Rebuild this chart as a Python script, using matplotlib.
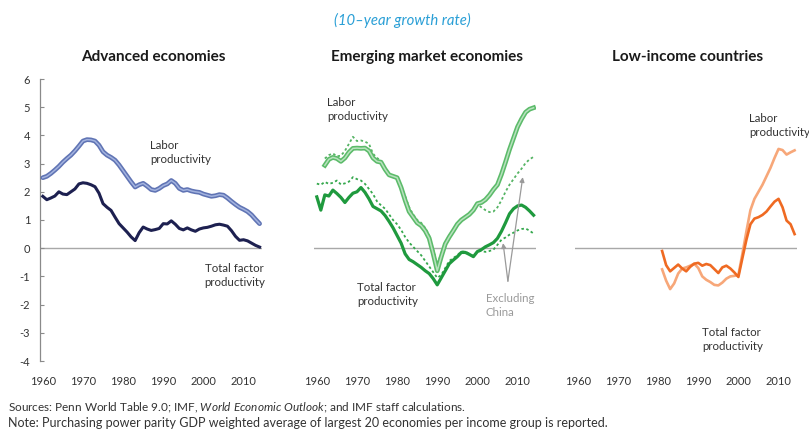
import numpy as np
import matplotlib
matplotlib.use("Agg")
import matplotlib.pyplot as plt

plt.rcParams['font.family'] = ['Lato', 'DejaVu Sans']
plt.rcParams['mathtext.fontset'] = 'custom'
plt.rcParams['mathtext.it'] = 'Lato:italic'
plt.rcParams['mathtext.rm'] = 'Lato'

# ---- data (10-year growth rate, percent) ----
years_all = list(range(1960, 2015))
years_emlp = list(range(1962, 2015))
years_lic = list(range(1981, 2015))

adv_labor = [2.50, 2.55, 2.65, 2.77, 2.90, 3.05, 3.18, 3.30, 3.45, 3.62,
             3.80, 3.85, 3.84, 3.80, 3.65, 3.42, 3.30, 3.22, 3.12, 2.95,
             2.75, 2.55, 2.35, 2.17, 2.25, 2.30, 2.20, 2.08, 2.05, 2.12,
             2.22, 2.28, 2.40, 2.30, 2.12, 2.05, 2.08, 2.03, 2.00, 1.98,
             1.92, 1.88, 1.84, 1.86, 1.90, 1.88, 1.78, 1.66, 1.55, 1.45,
             1.38, 1.30, 1.18, 1.02, 0.87]
adv_tfp = [1.84, 1.72, 1.78, 1.85, 2.00, 1.92, 1.90, 2.00, 2.10, 2.28,
           2.32, 2.30, 2.25, 2.18, 1.95, 1.58, 1.45, 1.34, 1.10, 0.87,
           0.72, 0.57, 0.40, 0.27, 0.55, 0.75, 0.68, 0.63, 0.66, 0.70,
           0.87, 0.86, 0.97, 0.85, 0.70, 0.65, 0.72, 0.65, 0.60, 0.68,
           0.72, 0.74, 0.78, 0.83, 0.85, 0.82, 0.78, 0.62, 0.42, 0.28,
           0.30, 0.26, 0.18, 0.10, 0.04]

em_labor = [2.94, 3.15, 3.22, 3.18, 3.08, 3.20, 3.40, 3.54,
            3.55, 3.54, 3.55, 3.45, 3.20, 3.08, 3.05, 2.80, 2.60, 2.55,
            2.50, 2.15, 1.70, 1.30, 1.10, 0.90, 0.80, 0.62, 0.35, -0.20,
            -0.80, -0.30, 0.15, 0.40, 0.62, 0.85, 1.00, 1.10, 1.20, 1.35,
            1.58, 1.62, 1.72, 1.88, 2.08, 2.25, 2.62, 3.05, 3.50, 3.90,
            4.30, 4.58, 4.82, 4.93, 4.98]
em_labor_exchn = [3.18, 3.30, 3.36, 3.26, 3.28, 3.45, 3.70, 3.95,
                  3.80, 3.82, 3.78, 3.70, 3.35, 3.20, 3.10, 2.85, 2.62, 2.57,
                  2.52, 2.20, 1.85, 1.45, 1.20, 1.00, 0.90, 0.72, 0.45, -0.05,
                  -0.55, -0.20, 0.20, 0.45, 0.65, 0.88, 1.02, 1.12, 1.22, 1.40,
                  1.55, 1.45, 1.35, 1.28, 1.30, 1.45, 1.70, 2.00, 2.25, 2.45,
                  2.65, 2.82, 3.02, 3.15, 3.24]
em_tfp = [1.82, 1.35, 1.89, 1.85, 2.06, 1.94, 1.80, 1.62, 1.80, 1.95,
          2.00, 2.15, 1.98, 1.75, 1.48, 1.40, 1.32, 1.16, 0.95, 0.72,
          0.45, 0.18, -0.20, -0.40, -0.48, -0.58, -0.68, -0.80, -0.90, -1.08,
          -1.30, -1.05, -0.80, -0.55, -0.42, -0.30, -0.15, -0.15, -0.22, -0.30,
          -0.12, -0.05, 0.05, 0.12, 0.20, 0.35, 0.60, 0.90, 1.22, 1.40,
          1.50, 1.53, 1.45, 1.32, 1.17]
em_tfp_exchn = [2.29, 2.25, 2.35, 2.28, 2.32, 2.40, 2.26, 2.30, 2.36, 2.52,
                2.45, 2.40, 2.28, 2.10, 1.92, 1.66, 1.52, 1.40, 1.20, 1.00,
                0.85, 0.65, 0.40, 0.20, 0.05, -0.10, -0.25, -0.45, -0.65, -0.85,
                -1.05, -0.95, -0.70, -0.45, -0.35, -0.25, -0.12, -0.12, -0.20, -0.28,
                -0.12, -0.10, -0.13, -0.10, -0.05, 0.12, 0.30, 0.38, 0.48, 0.55,
                0.63, 0.68, 0.70, 0.62, 0.52]

lic_labor = [-0.75, -1.15, -1.45, -1.25, -0.90, -0.72, -0.68, -0.62, -0.55,
             -0.70, -1.00, -1.12, -1.20, -1.30, -1.32, -1.22, -1.08, -1.00, -0.98,
             -0.95, -0.20, 0.60, 1.35, 1.75, 2.00, 2.25, 2.55, 2.85, 3.20,
             3.52, 3.48, 3.32, 3.40, 3.47]
lic_tfp = [-0.10, -0.60, -0.82, -0.70, -0.58, -0.72, -0.82, -0.66, -0.55,
           -0.52, -0.62, -0.56, -0.60, -0.74, -0.88, -0.68, -0.62, -0.72, -0.86,
           -1.02, -0.35, 0.30, 0.85, 1.05, 1.10, 1.18, 1.30, 1.48, 1.65,
           1.75, 1.45, 0.98, 0.85, 0.50]

xticks = [1960, 1970, 1980, 1990, 2000, 2010]
yticks = [-4, -3, -2, -1, 0, 1, 2, 3, 4, 5, 6]
titles = ["Advanced economies", "Emerging market economies", "Low-income countries"]

W, H = 809, 430
fig = plt.figure(figsize=(W / 100, H / 100), dpi=100)

lefts = [40, 314, 575]
axes = []
for lx in lefts:
    ax = fig.add_axes([lx / W, 1 - 361 / H, 222 / W, 282 / H])
    ax.set_xlim(1959.3, 2014.6)
    ax.set_ylim(-4, 6)
    for s in ax.spines.values():
        s.set_visible(False)
    ax.axhline(0, color='#a8a8a8', lw=1.0, zorder=1)
    ax.set_xticks(xticks)
    ax.set_xticklabels([str(t) for t in xticks])
    ax.tick_params(axis='x', length=0, pad=11, labelsize=8, colors='#333333')
    ax.set_yticks([])
    axes.append(ax)

# left panel y-axis
ax = axes[0]
ax.spines['left'].set_visible(True)
ax.spines['left'].set_color('#8a8a8a')
ax.spines['left'].set_linewidth(0.9)
ax.set_yticks(yticks)
ax.set_yticklabels([str(t) for t in yticks])
ax.tick_params(axis='y', direction='in', length=3, width=0.8, color='#8a8a8a',
               labelsize=8, labelcolor='#333333', pad=7)

txt = dict(fontsize=8.3, color='#333333', ha='left', va='top', linespacing=1.35)

# advanced
ax = axes[0]
ax.plot(years_all, adv_labor, color='#6074b4', lw=3.4, solid_capstyle='round', zorder=3)
ax.plot(years_all, adv_labor, color='#a3b3df', lw=1.1, zorder=4)
ax.plot(years_all, adv_tfp, color='#1d2050', lw=2.2, zorder=3)
ax.text(1986.7, 3.83, "Labor\nproductivity", **txt)
ax.text(2000.3, -0.53, "Total factor\nproductivity", clip_on=False, **txt)

# emerging
ax = axes[1]
ax.plot(years_emlp, em_labor, color='#5cbb6a', lw=3.4, zorder=3)
ax.plot(years_emlp, em_labor, color='#b8e2be', lw=1.1, zorder=4)
ax.plot(years_emlp, em_labor_exchn, color='#55b464', lw=1.3, ls=(0, (1.4, 1.4)), zorder=2)
ax.plot(years_all, em_tfp, color='#1f9a3e', lw=2.3, zorder=3)
ax.plot(years_all, em_tfp_exchn, color='#35a84d', lw=1.3, ls=(0, (1.4, 1.4)), zorder=2)
ax.text(1962.5, 5.35, "Labor\nproductivity", **txt)
ax.text(1969.95, -1.2, "Total factor\nproductivity", **txt)
ax.text(2002.1, -1.6, "Excluding\nChina", fontsize=8.3, color='#9a9a9a', ha='left',
        va='top', linespacing=1.35)
for hx, hy in [(2011.3, 2.52), (2006.4, 0.18)]:
    ax.annotate("", xy=(hx, hy), xytext=(2007.6, -1.17),
                arrowprops=dict(arrowstyle='-|>', color='#9a9a9a', lw=0.9,
                                mutation_scale=7, shrinkA=0, shrinkB=0))

# low-income
ax = axes[2]
ax.plot(years_lic, lic_labor, color='#f7a779', lw=1.9, zorder=3)
ax.plot(years_lic, lic_tfp, color='#ef6a22', lw=1.9, zorder=4)
ax.text(2002.6, 4.79, "Labor\nproductivity", clip_on=False, **txt)
ax.text(1990.9, -2.8, "Total factor\nproductivity", **txt)

# titles
for lx, t in zip(lefts, titles):
    fig.text((lx + 113) / W, 1 - 57 / H, t, ha='center', va='center',
             fontsize=11, fontweight='bold', color='#1a1a1a')
fig.text(402 / W, 1 - 20 / H, "(10\u2013year growth rate)", ha='center', va='center',
         fontsize=10.7, style='italic', color='#2a9fd6')

fig.text(8 / W, 1 - 408 / H,
         r"Sources: Penn World Table 9.0; IMF, $\it{World\ Economic\ Outlook}$; and IMF staff calculations.",
         ha='left', va='center', fontsize=8.5, color='#333333')
fig.text(8 / W, 1 - 423 / H,
         "Note: Purchasing power parity GDP weighted average of largest 20 economies per income group is reported.",
         ha='left', va='center', fontsize=9, color='#333333')

fig.savefig("out.png", dpi=100)
